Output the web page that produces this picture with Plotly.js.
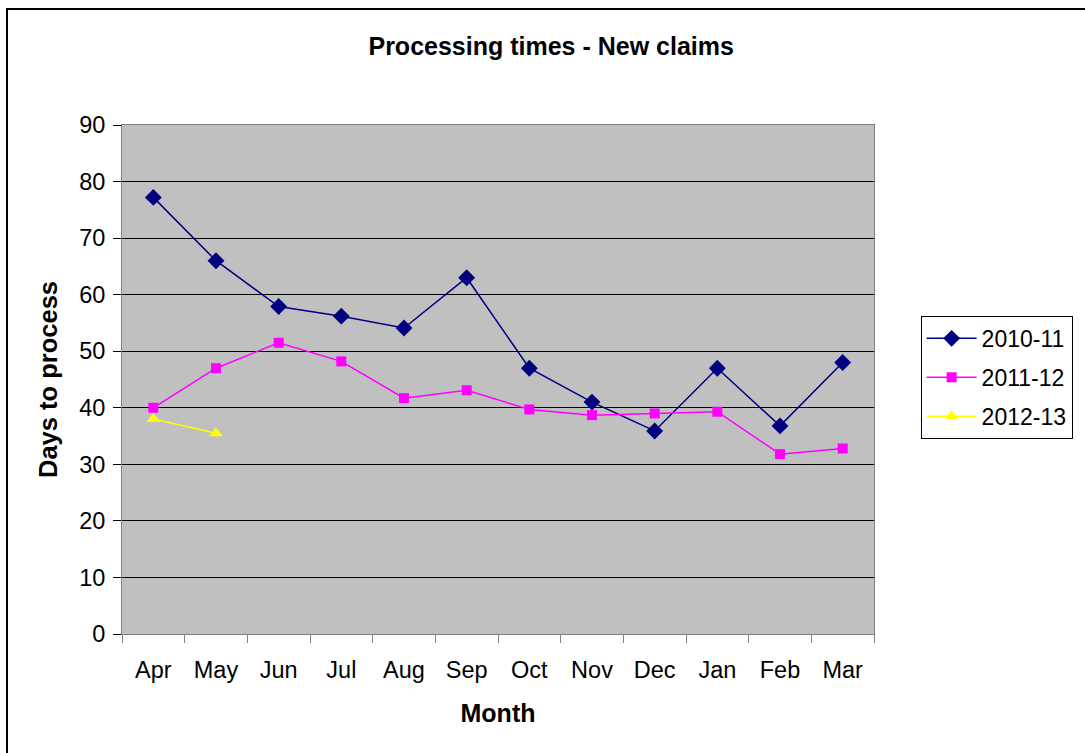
<!DOCTYPE html>
<html>
<head>
<meta charset="utf-8">
<script src="https://cdn.plot.ly/plotly-3.0.1.min.js"></script>
<style>
  body { margin: 0; background: #fff; overflow: hidden; }
  #frame { position: absolute; left: 6px; top: 8px; width: 1100px; height: 760px; border: 2px solid #000; box-sizing: border-box; }
  #chart { position: absolute; left: 0; top: 0; width: 1085px; height: 753px; }
</style>
</head>
<body>
<div id="frame"></div>
<div id="chart"></div>
<script>
// months on the x axis
const months = ['Apr', 'May', 'Jun', 'Jul', 'Aug', 'Sep', 'Oct', 'Nov', 'Dec', 'Jan', 'Feb', 'Mar'];

// days to process, per year
const y2010 = [77.2, 66, 57.9, 56.2, 54.1, 63, 47, 41, 35.9, 47, 36.8, 48];
const y2011 = [40, 47, 51.5, 48.2, 41.7, 43.1, 39.7, 38.7, 39, 39.3, 31.8, 32.8];
const y2012 = [38, 35.5];

const font = 'Liberation Sans, Arial, sans-serif';

const traces = [
    {
        x: months, y: y2010, name: '2010-11', mode: 'lines+markers', type: 'scatter', legendgroup: 'a',
        line: { color: '#000080', width: 1.5 },
        marker: { symbol: 'diamond', size: 13, color: '#000080' }
    },
    {
        x: months, y: y2011, name: '2011-12', mode: 'lines+markers', type: 'scatter', legendgroup: 'b',
        line: { color: '#FF00FF', width: 1.5 },
        marker: { symbol: 'square', size: 10, color: '#FF00FF' }
    },
    {
        x: months.slice(0, y2012.length), y: y2012, name: '2012-13', mode: 'lines+markers', type: 'scatter', legendgroup: 'c',
        line: { color: '#FFFF00', width: 1.5 },
        marker: { symbol: 'triangle-up', size: 12, color: '#FFFF00' }
    }
];

const layout = {
    width: 1085, height: 753,
    margin: { l: 122, r: 209, t: 125, b: 119 },
    paper_bgcolor: 'rgba(0,0,0,0)',
    plot_bgcolor: '#C0C0C0',
    font: { family: font, color: '#000', size: 23 },
    title: {
        text: '<b>Processing times - New claims</b>',
        font: { family: font, size: 25 },
        x: 0.508, xref: 'container', xanchor: 'center',
        y: 0.939, yref: 'container', yanchor: 'middle'
    },
    xaxis: {
        type: 'category',
        range: [-0.5, 11.5],
        tickson: 'boundaries',
        ticks: 'outside', ticklen: 8, tickcolor: '#808080',
        ticklabelstandoff: 15,
        showgrid: false,
        showline: true, linecolor: '#808080', linewidth: 1, mirror: true,
        tickfont: { size: 23.5 },
        title: { text: '<b>Month</b>', font: { size: 25 }, standoff: 22 }
    },
    yaxis: {
        range: [0, 90], dtick: 10,
        ticks: 'outside', ticklen: 8, tickcolor: '#000',
        ticklabelstandoff: 3,
        showgrid: true, gridcolor: '#000', gridwidth: 1,
        zeroline: false,
        showline: true, linecolor: '#808080', linewidth: 1, mirror: true,
        tickfont: { size: 23.5 },
        title: { text: '<b>Days to process</b>', font: { size: 25.5 }, standoff: 14 }
    },
    showlegend: true,
    legend: {
        x: 1.062, y: 0.625, xanchor: 'left', yanchor: 'top',
        bgcolor: '#fff', bordercolor: '#000', borderwidth: 1,
        font: { size: 23 }, itemwidth: 50, tracegroupgap: 6
    }
};

Plotly.newPlot('chart', traces, layout, { displayModeBar: false, staticPlot: true });
</script>
</body>
</html>
